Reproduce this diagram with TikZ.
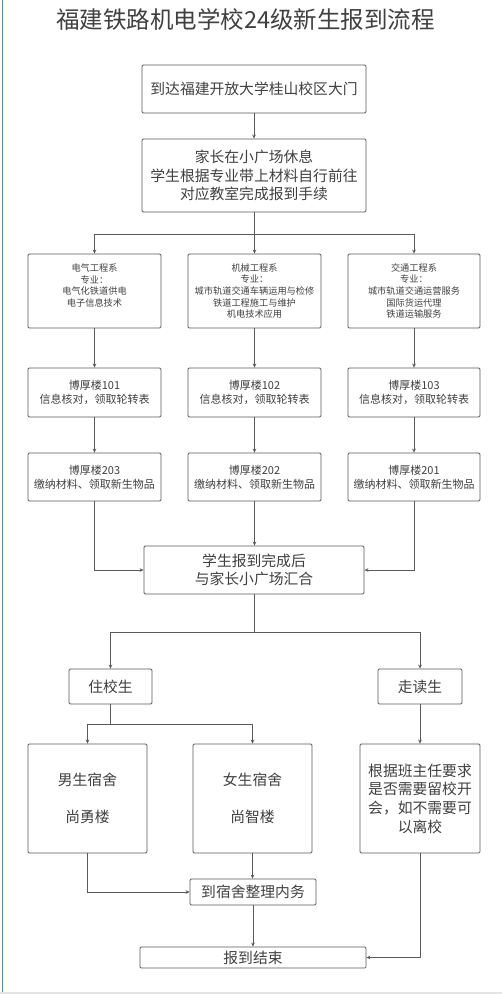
\documentclass[tikz,border=0pt]{standalone}
\usepackage{fontspec}
\setmainfont{Noto Sans CJK SC}
\usetikzlibrary{arrows.meta}
\definecolor{txt}{HTML}{404040}
\definecolor{edge}{HTML}{5A5A5A}
\definecolor{bluebar}{HTML}{2B9AD0}
\definecolor{band}{HTML}{E4E4E4}
\begin{document}
\begin{tikzpicture}[x=1pt,y=-1pt,
  box/.style={draw=edge, line width=0.8pt, rounded corners=1.2pt, inner sep=0pt, align=center, text=txt},
  bigtxt/.style={font=\fontsize{14.8}{18.7}\selectfont},
  midtxt/.style={font=\fontsize{11}{14}\selectfont},
  smalltxt/.style={font=\fontsize{9.2}{11.7}\selectfont},
  conn/.style={draw=edge, line width=0.8pt, -{Stealth[length=4pt,width=3.6pt]}},
  plainline/.style={draw=edge, line width=0.8pt}]
\useasboundingbox (0,0) rectangle (502,994);
\fill[white] (0,0) rectangle (502,994);
\fill[band] (0,991.5) rectangle (502,994);
\draw[bluebar, line width=1.5pt] (2.3,0) -- (2.3,991.5);

\node[text=txt, font=\fontsize{23.5}{28}\selectfont] (title) at (245.5,19) {福建铁路机电学校24级新生报到流程};

\node[box,bigtxt,minimum width=224pt,minimum height=48pt] (b1) at (254,89) {到达福建开放大学桂山校区大门};
\node[box,bigtxt,minimum width=224pt,minimum height=73pt] (b2) at (254,175.5) {家长在小广场休息\\学生根据专业带上材料自行前往\\对应教室完成报到手续};

\node[box,smalltxt,minimum width=133pt,minimum height=74pt] (d1) at (94.5,291) {电气工程系\\专业：\\电气化铁道供电\\电子信息技术\\~};
\node[box,smalltxt,minimum width=133pt,minimum height=74pt] (d2) at (254.5,291) {机械工程系\\专业：\\城市轨道交通车辆运用与检修\\铁道工程施工与维护\\机电技术应用};
\node[box,smalltxt,minimum width=132pt,minimum height=74pt] (d3) at (414,291) {交通工程系\\专业：\\城市轨道交通运营服务\\国际货运代理\\铁道运输服务};

\node[box,midtxt,minimum width=133pt,minimum height=49pt] (r1) at (94.5,392.5) {博厚楼101\\信息核对，领取轮转表};
\node[box,midtxt,minimum width=133pt,minimum height=49pt] (r2) at (254.5,392.5) {博厚楼102\\信息核对，领取轮转表};
\node[box,midtxt,minimum width=132pt,minimum height=49pt] (r3) at (414,392.5) {博厚楼103\\信息核对，领取轮转表};

\node[box,midtxt,minimum width=133pt,minimum height=48pt] (s1) at (94.5,477) {博厚楼203\\缴纳材料、领取新生物品};
\node[box,midtxt,minimum width=133pt,minimum height=48pt] (s2) at (254.5,477) {博厚楼202\\缴纳材料、领取新生物品};
\node[box,midtxt,minimum width=132pt,minimum height=48pt] (s3) at (414,477) {博厚楼201\\缴纳材料、领取新生物品};

\node[box,bigtxt,minimum width=220pt,minimum height=48pt] (m) at (254,570) {学生报到完成后\\与家长小广场汇合};

\node[box,bigtxt,minimum width=83pt,minimum height=35pt] (zx) at (110.5,686.5) {住校生};
\node[box,bigtxt,minimum width=84pt,minimum height=35pt] (zd) at (420,686.5) {走读生};

\node[box,bigtxt,minimum width=119pt,minimum height=109pt] (nan) at (87.5,798.5) {男生宿舍\\[18.5pt]尚勇楼};
\node[box,bigtxt,minimum width=119pt,minimum height=109pt] (nv) at (252.5,798.5) {女生宿舍\\[18.5pt]尚智楼};
\node[box,bigtxt,minimum width=120pt,minimum height=109pt] (rb) at (420,798.5) {根据班主任要求\\是否需要留校开\\会，如不需要可\\以离校};

\node[box,bigtxt,minimum width=126pt,minimum height=26pt] (ss) at (253,892) {到宿舍整理内务};
\node[box,bigtxt,minimum width=226pt,minimum height=21pt] (end) at (253,957.5) {报到结束};

% connectors
\draw[conn] (b1.south) -- (b2.north);
\coordinate (j1) at (254,234);
\draw[plainline] (b2.south) -- (j1);
\draw[plainline] (94.5,234) -- (414,234);
\draw[conn] (d1.north |- j1) -- (d1.north);
\draw[conn] (d2.north |- j1) -- (d2.north);
\draw[conn] (d3.north |- j1) -- (d3.north);

\draw[conn] (d1.south) -- (r1.north);
\draw[conn] (d2.south) -- (r2.north);
\draw[conn] (d3.south) -- (r3.north);
\draw[conn] (r1.south) -- (s1.north);
\draw[conn] (r2.south) -- (s2.north);
\draw[conn] (r3.south) -- (s3.north);

\draw[conn] (s1.south) |- (m.west);
\draw[conn] (s2.south) -- (s2.south |- m.north);
\draw[conn] (s3.south) |- (m.east);

\coordinate (j2) at (254,632);
\draw[plainline] (m.south) -- (j2);
\draw[plainline] (zx.north |- j2) -- (zd.north |- j2);
\draw[conn] (zx.north |- j2) -- (zx.north);
\draw[conn] (zd.north |- j2) -- (zd.north);

\coordinate (j3) at (110.5,724);
\draw[plainline] (zx.south) -- (j3);
\draw[plainline] (nan.north |- j3) -- (nv.north |- j3);
\draw[conn] (nan.north |- j3) -- (nan.north);
\draw[conn] (nv.north |- j3) -- (nv.north);
\draw[conn] (zd.south) -- (rb.north);

\draw[conn] (nan.south) |- (ss.west);
\draw[conn] (nv.south) -- (nv.south |- ss.north);
\draw[conn] (ss.south) -- (ss.south |- end.north);
\draw[conn] (rb.south) |- (end.east);
\end{tikzpicture}
\end{document}
